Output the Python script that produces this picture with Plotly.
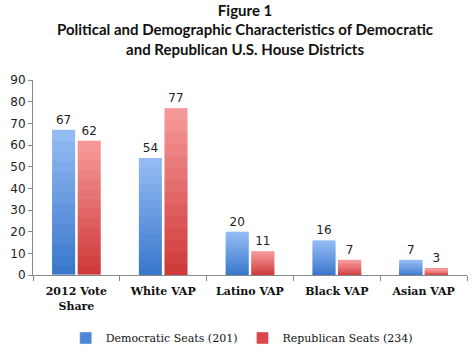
import plotly.graph_objects as go

categories = ["2012 Vote<br>Share", "White VAP", "Latino VAP", "Black VAP", "Asian VAP"]
dem_values = [67, 54, 20, 16, 7]
rep_values = [62, 77, 11, 7, 3]
dem_name = "Democratic Seats (201)"
rep_name = "Republican Seats (234)"
y_ticks = [0, 10, 20, 30, 40, 50, 60, 70, 80, 90]

N = 14  # gradient steps per bar
OVERLAP = 0.35  # data-unit overlap to hide anti-aliasing seams


def lerp(c1, c2, t):
    return "rgb(%d,%d,%d)" % tuple(round(a + (b - a) * t) for a, b in zip(c1, c2))


fig = go.Figure()


def add_series(values, name, group, bottom, top, legend_color):
    for k in range(N):
        t = (k + 0.5) / N
        last = k == N - 1
        bases = [max(0.0, v * k / N - (OVERLAP if k else 0)) for v in values]
        tops = [v * (k + 1) / N for v in values]
        fig.add_trace(go.Bar(
            x=categories,
            y=[tp - b for tp, b in zip(tops, bases)],
            base=bases,
            offsetgroup=group,
            name=name,
            legendgroup=group,
            showlegend=False,
            marker=dict(color=lerp(bottom, top, t), line=dict(width=0)),
            text=[str(v) for v in values] if last else None,
            textposition="outside" if last else "none",
            textfont=dict(family="DejaVu Sans", size=12, color="#222"),
            cliponaxis=False,
            hoverinfo="skip",
        ))
    # legend entry
    fig.add_trace(go.Bar(
        x=[categories[0]], y=[0], offsetgroup=group, name=name,
        legendgroup=group, showlegend=True,
        marker=dict(color=legend_color), hoverinfo="skip",
    ))


add_series(dem_values, dem_name, "dem", (55, 118, 202), (150, 188, 245), "rgb(75,135,215)")
add_series(rep_values, rep_name, "rep", (205, 55, 55), (248, 155, 155), "rgb(220,70,70)")

fig.update_layout(
    width=474, height=351,
    margin=dict(l=33, r=7, t=80, b=76, autoexpand=False),
    paper_bgcolor="white", plot_bgcolor="white",
    barmode="group", bargap=0.41, bargroupgap=0.1,
    title=dict(
        text="Figure 1<br>Political and Demographic Characteristics of Democratic<br>and Republican U.S. House Districts",
        x=0.517, xanchor="center", xref="container",
        y=0.955, yanchor="top", yref="container",
        font=dict(family="Lato", size=15, color="#111", weight="bold"),
    ),
    showlegend=True,
    legend=dict(
        orientation="h", x=0.51, xanchor="center", xref="container",
        y=0.037, yanchor="middle", yref="container",
        font=dict(family="DejaVu Serif", size=11, color="#111"),
        itemwidth=30, tracegroupgap=0, traceorder="normal",
    ),
    font=dict(family="DejaVu Sans", color="#222"),
)
fig.update_xaxes(
    showline=True, linecolor="#888", linewidth=1,
    ticks="outside", tickson="boundaries", ticklen=5, tickcolor="#888",
    ticklabelstandoff=6,
    tickfont=dict(family="DejaVu Serif", size=11, color="#111", weight="bold"),
    showgrid=False,
)
fig.update_yaxes(
    range=[0, 90], tickvals=y_ticks, showline=True, linecolor="#888", linewidth=1,
    ticks="outside", ticklen=4, tickcolor="#888",
    tickfont=dict(family="DejaVu Sans", size=12, color="#222"),
    showgrid=False, zeroline=False,
)

fig.write_html("out.html")
